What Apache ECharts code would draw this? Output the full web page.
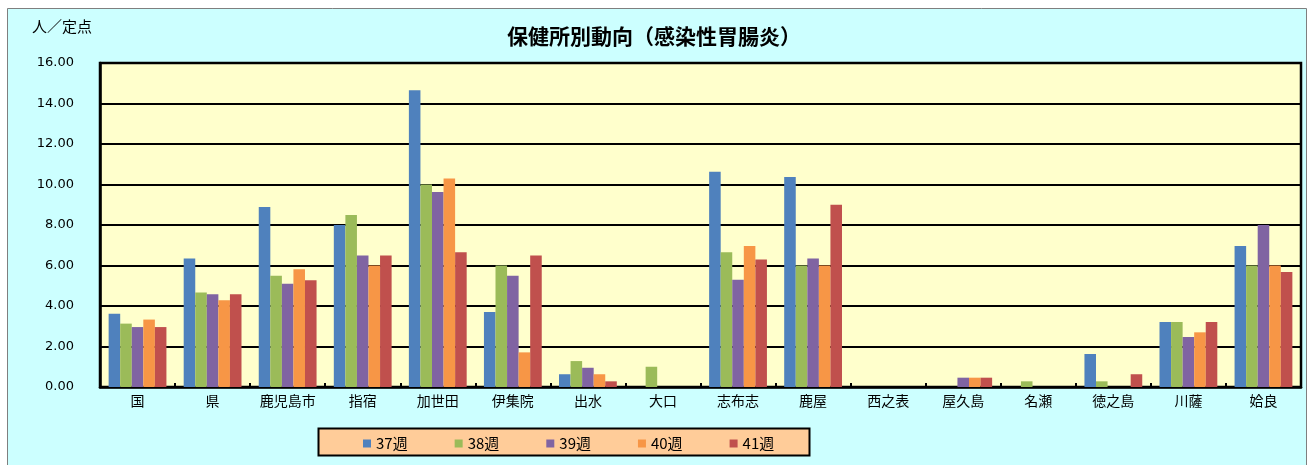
<!DOCTYPE html>
<html><head><meta charset="utf-8">
<script src="https://cdn.jsdelivr.net/npm/echarts@6/dist/echarts.min.js"></script>
<style>html,body{margin:0;padding:0;background:#fff}#c{width:1308px;height:465px}</style>
</head><body><div id="c"></div>
<script>
const categories = ['国','県','鹿児島市','指宿','加世田','伊集院','出水','大口','志布志','鹿屋','西之表','屋久島','名瀬','徳之島','川薩','姶良'];
const seriesNames = ['37週','38週','39週','40週','41週'];
const w37 = [3.62,6.34,8.89,8.0,14.65,3.70,0.63,0,10.63,10.37,0,0,0,1.63,3.21,6.96];
const w38 = [3.13,4.67,5.50,8.5,10.0,6.0,1.28,1.0,6.65,6.0,0,0,0.28,0.28,3.21,6.0];
const w39 = [2.96,4.58,5.10,6.5,9.63,5.5,0.95,0,5.30,6.35,0,0.46,0,0,2.47,8.0];
const w40 = [3.33,4.28,5.81,6.0,10.30,1.71,0.63,0,6.96,6.0,0,0.46,0,0,2.70,6.0];
const w41 = [2.96,4.58,5.27,6.5,6.65,6.5,0.28,0,6.30,9.0,0,0.46,0,0.63,3.21,5.68];
const yTicks = [0,2,4,6,8,10,12,14,16];
const colors = ['#4f81bd','#9bbb59','#8064a2','#f79646','#c0504d'];
const allData = [w37,w38,w39,w40,w41];
const font = '"Noto Sans CJK JP", sans-serif';

const chart = echarts.init(document.getElementById('c'));
chart.setOption({
  animation:false,
  textStyle:{fontFamily:font},
  graphic:[
    {type:'rect', z:-10, shape:{x:7.5,y:8.5,width:1299,height:460}, style:{fill:'#ccffff',stroke:'#7f7f7f',lineWidth:1}},
    {type:'rect', z:-5, shape:{x:318.5,y:428.5,width:491,height:27}, style:{fill:'#ffcc99',stroke:'#000',lineWidth:2}},
    {type:'text', left:32, top:19, style:{text:'人／定点', font:'15px '+font, fill:'#000'}}
  ],
  title:{text:'保健所別動向（感染性胃腸炎）', left:'center', top:26, padding:0,
    textStyle:{fontSize:21,fontWeight:'bold',color:'#000',fontFamily:font}},
  legend:{data:seriesNames, left:358, top:431, itemWidth:8, itemHeight:8, itemGap:47,
    icon:'rect', textStyle:{fontSize:15,color:'#000',fontFamily:font}},
  grid:{left:100,right:7,top:63,bottom:78,show:true,backgroundColor:'#ffffcc',borderColor:'#000',borderWidth:2.5},
  xAxis:{type:'category',data:categories,
    axisLine:{lineStyle:{color:'#000',width:2.5}},
    axisTick:{show:true,inside:true,length:4,lineStyle:{color:'#000',width:2}},
    axisLabel:{fontSize:14,color:'#000',margin:7,fontFamily:font}},
  yAxis:{type:'value',min:0,max:16,interval:2,
    axisLine:{show:true,lineStyle:{color:'#000',width:2.5}},
    axisTick:{show:false},
    splitLine:{lineStyle:{color:'#000',width:2}},
    axisLabel:{fontSize:13,color:'#000',margin:26,fontFamily:'"DejaVu Sans", sans-serif',
      formatter:v=>v.toFixed(2)}},
  series: seriesNames.map((n,i)=>({name:n,type:'bar',data:allData[i],barGap:'0%',barCategoryGap:'23%',
    itemStyle:{color:colors[i]}}))
});
</script></body></html>
